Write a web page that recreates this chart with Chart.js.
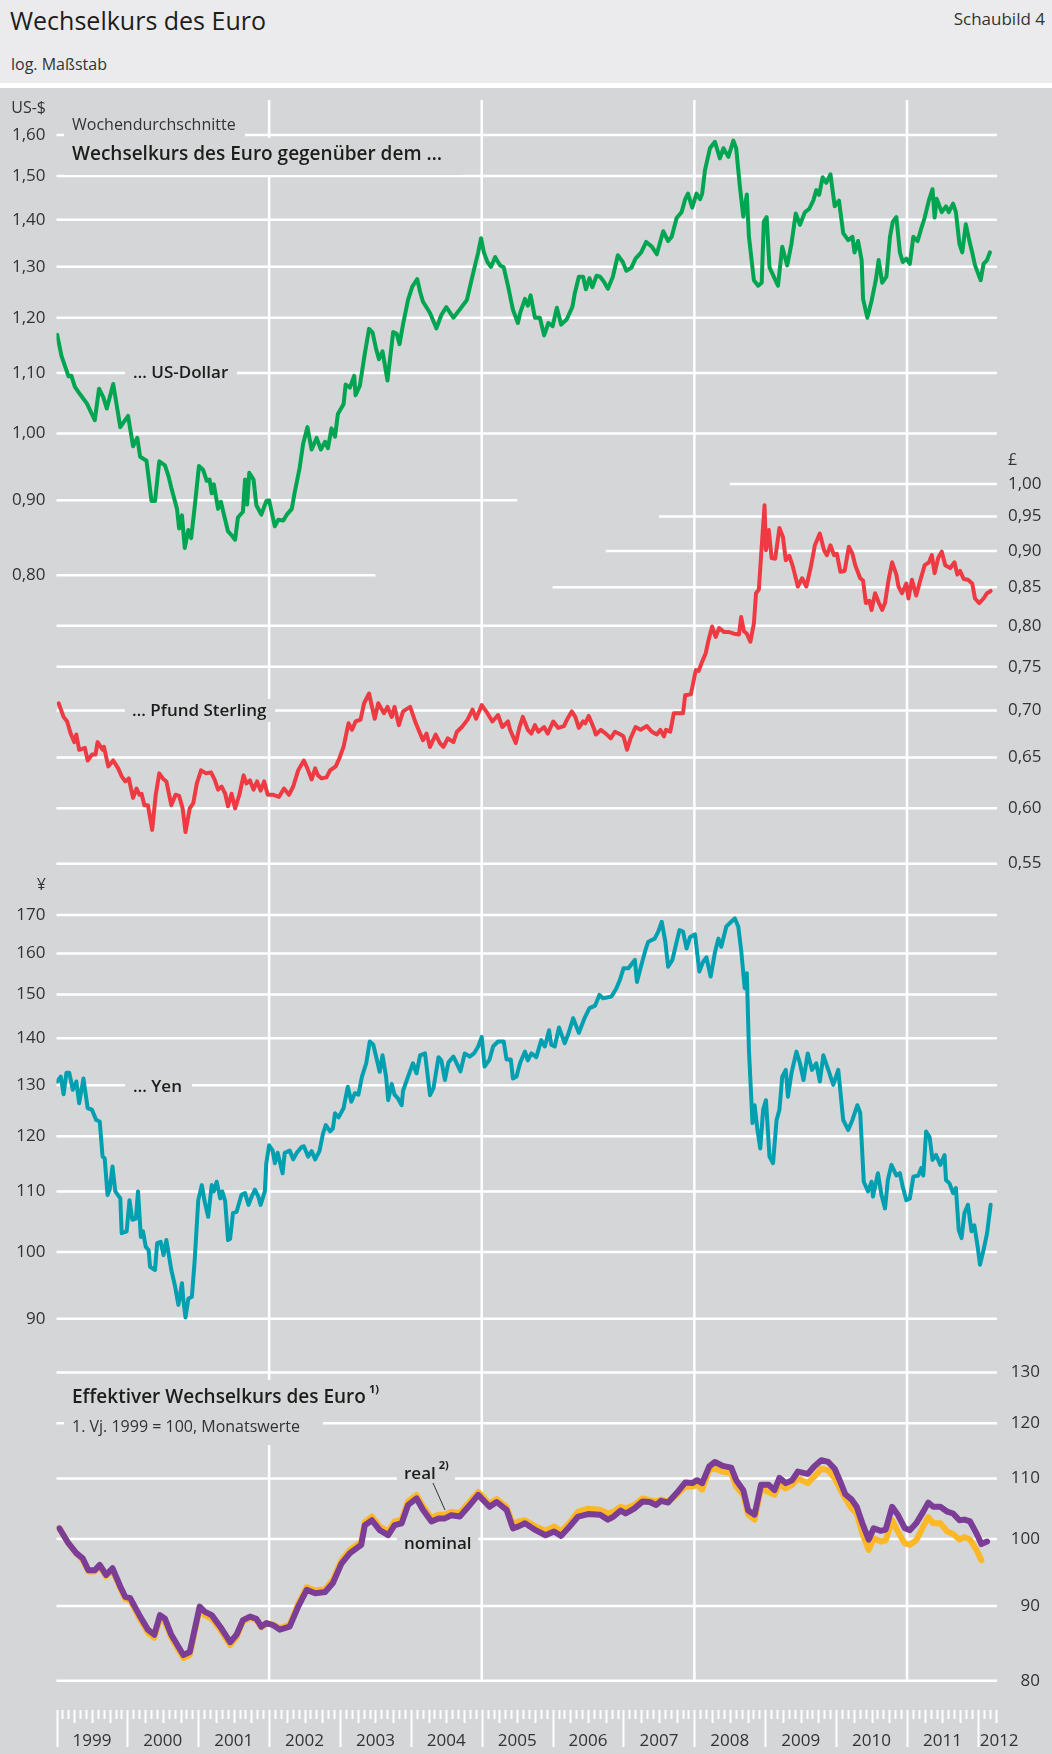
<!DOCTYPE html>
<html lang="de">
<head>
<meta charset="utf-8">
<title>Wechselkurs des Euro</title>
<script src="https://cdn.jsdelivr.net/npm/chart.js@4.4.1/dist/chart.umd.min.js"></script>
<style>
  html, body { margin: 0; padding: 0; background: #fff; }
  body { width: 1052px; height: 1754px; position: relative; overflow: hidden; font-family: 'Open Sans', sans-serif; }
  .head { position: absolute; left: 0; top: 0; width: 1052px; height: 83px; background: #ebebed; }
  .head .title { position: absolute; left: 10px; top: 2px; font-size: 25px; line-height: 36px; color: #1d1d1b; }
  .head .nr { position: absolute; right: 7px; top: 6px; font-size: 17px; line-height: 26px; color: #333; }
  .head .sub { position: absolute; left: 11px; top: 51px; font-size: 16px; line-height: 26px; color: #333; }
  .plot { position: absolute; left: 0; top: 88px; width: 1052px; height: 1666px; background: #d5d6d8; }
</style>
</head>
<body>
<div class="head">
  <div class="title">Wechselkurs des Euro</div>
  <div class="nr">Schaubild 4</div>
  <div class="sub">log. Maßstab</div>
</div>
<div class="plot"><canvas id="chart" width="1052" height="1666"></canvas></div>
<script>
// ---- data (weekly averages / monthly values) ----
const usdDates = [
  1999.01,1999.07,1999.17,1999.21,1999.26,1999.33,1999.43,1999.54,1999.60,1999.66,1999.71,1999.80,1999.90,
  2000.01,2000.08,2000.14,2000.18,2000.27,2000.34,2000.39,2000.45,2000.53,2000.58,2000.62,2000.70,2000.73,2000.77,2000.81,2000.86,2000.90,2000.95,
  2001.01,2001.07,2001.12,2001.16,2001.19,2001.22,2001.28,2001.32,2001.35,2001.42,2001.47,2001.52,2001.56,2001.63,2001.66,2001.69,2001.72,2001.78,2001.82,2001.89,2001.96,
  2002.00,2002.08,2002.13,2002.20,2002.25,2002.32,2002.36,2002.43,2002.48,2002.54,2002.60,2002.67,2002.73,2002.79,2002.83,2002.88,2002.93,2002.97,
  2003.05,2003.08,2003.14,2003.20,2003.22,2003.28,2003.35,2003.41,2003.46,2003.51,2003.55,2003.60,2003.67,2003.75,2003.80,2003.84,2003.89,2003.96,
  2004.02,2004.09,2004.13,2004.17,2004.27,2004.36,2004.43,2004.50,2004.60,2004.67,2004.79,2004.85,2004.90,2004.95,2004.99,
  2005.03,2005.08,2005.13,2005.19,2005.23,2005.26,2005.31,2005.37,2005.44,2005.51,2005.54,2005.61,2005.65,2005.69,2005.75,2005.82,2005.88,2005.94,
  2006.00,2006.06,2006.12,2006.20,2006.28,2006.31,2006.37,2006.43,2006.47,2006.52,2006.56,2006.62,2006.67,2006.72,2006.78,2006.85,2006.92,2006.99,
  2007.04,2007.11,2007.17,2007.25,2007.32,2007.40,2007.47,2007.56,2007.63,2007.68,2007.75,2007.82,2007.87,2007.91,2007.97,
  2008.03,2008.08,2008.11,2008.15,2008.22,2008.29,2008.36,2008.41,2008.48,2008.55,2008.59,2008.64,2008.69,2008.74,2008.77,2008.84,2008.90,2008.95,2008.98,
  2009.02,2009.06,2009.12,2009.18,2009.24,2009.31,2009.37,2009.43,2009.49,2009.56,2009.62,2009.68,2009.72,2009.76,2009.81,2009.86,2009.92,2009.98,
  2010.04,2010.10,2010.17,2010.23,2010.26,2010.31,2010.36,2010.38,2010.44,2010.50,2010.56,2010.60,2010.65,2010.71,2010.76,2010.80,2010.85,2010.90,2010.94,2010.99,
  2011.04,2011.09,2011.15,2011.20,2011.25,2011.31,2011.36,2011.39,2011.42,2011.49,2011.55,2011.59,2011.65,2011.69,2011.74,2011.78,2011.83,2011.89,2011.92,2011.96,
  2012.04,2012.08,2012.13,2012.17
];
const usdRates = [
  1.168,1.130,1.094,1.095,1.076,1.064,1.048,1.021,1.073,1.059,1.040,1.081,1.010,
  1.028,0.980,0.993,0.964,0.958,0.899,0.899,0.957,0.951,0.935,0.918,0.888,0.861,0.879,0.835,0.859,0.848,0.891,
  0.950,0.944,0.928,0.930,0.910,0.923,0.888,0.898,0.885,0.857,0.852,0.846,0.876,0.884,0.930,0.894,0.940,0.930,0.893,0.880,0.899,
  0.900,0.864,0.873,0.872,0.880,0.888,0.911,0.947,0.984,1.010,0.975,0.993,0.975,0.987,0.977,1.008,0.995,1.031,
  1.047,1.080,1.075,1.095,1.062,1.078,1.134,1.179,1.172,1.142,1.124,1.138,1.087,1.173,1.170,1.151,1.188,1.234,
  1.260,1.275,1.250,1.231,1.209,1.180,1.205,1.220,1.200,1.212,1.234,1.270,1.300,1.330,1.360,
  1.330,1.310,1.300,1.320,1.310,1.303,1.299,1.262,1.215,1.190,1.208,1.236,1.223,1.243,1.200,1.200,1.167,1.190,
  1.184,1.219,1.187,1.197,1.221,1.245,1.280,1.280,1.255,1.277,1.259,1.282,1.280,1.271,1.256,1.280,1.324,1.310,
  1.292,1.298,1.317,1.330,1.352,1.342,1.326,1.375,1.354,1.363,1.404,1.417,1.446,1.459,1.427,
  1.459,1.446,1.459,1.514,1.567,1.583,1.542,1.567,1.546,1.586,1.567,1.479,1.407,1.457,1.363,1.273,1.262,1.268,1.396,
  1.406,1.299,1.280,1.262,1.342,1.303,1.348,1.414,1.389,1.417,1.424,1.444,1.467,1.456,1.497,1.484,1.504,1.430,
  1.443,1.371,1.356,1.363,1.330,1.354,1.314,1.236,1.200,1.232,1.273,1.314,1.268,1.280,1.363,1.396,1.406,1.330,1.310,1.317,
  1.306,1.363,1.354,1.380,1.405,1.444,1.469,1.405,1.447,1.417,1.430,1.417,1.436,1.417,1.348,1.330,1.390,1.348,1.330,1.303,
  1.273,1.306,1.314,1.330
];

const gbpDates = [
  1999.03,1999.10,1999.15,1999.20,1999.25,1999.28,1999.32,1999.40,1999.44,1999.50,1999.55,1999.58,1999.65,1999.67,1999.73,1999.80,1999.87,1999.92,1999.97,
  2000.02,2000.08,2000.13,2000.17,2000.20,2000.24,2000.29,2000.35,2000.40,2000.45,2000.50,2000.55,2000.62,2000.68,2000.73,2000.78,2000.82,2000.88,2000.93,2000.98,
  2001.04,2001.11,2001.18,2001.23,2001.28,2001.33,2001.38,2001.42,2001.47,2001.52,2001.58,2001.64,2001.68,2001.73,2001.78,2001.83,2001.88,2001.93,2001.98,
  2002.06,2002.14,2002.21,2002.28,2002.34,2002.41,2002.49,2002.54,2002.60,2002.65,2002.69,2002.74,2002.81,2002.86,2002.94,2002.99,
  2003.05,2003.12,2003.17,2003.22,2003.29,2003.34,2003.41,2003.44,2003.49,2003.54,2003.62,2003.67,2003.73,2003.77,2003.83,2003.89,2003.99,
  2004.07,2004.17,2004.22,2004.27,2004.35,2004.41,2004.46,2004.52,2004.60,2004.65,2004.72,2004.80,2004.87,2004.92,
  2005.00,2005.08,2005.15,2005.23,2005.29,2005.37,2005.40,2005.48,2005.53,2005.58,2005.65,2005.70,2005.75,2005.80,2005.88,2005.93,
  2006.01,2006.08,2006.16,2006.21,2006.27,2006.32,2006.37,2006.43,2006.46,2006.51,2006.58,2006.61,2006.68,2006.75,2006.82,2006.88,2006.96,
  2007.00,2007.05,2007.10,2007.17,2007.24,2007.33,2007.40,2007.47,2007.52,2007.57,2007.60,2007.66,2007.71,2007.78,2007.84,2007.87,2007.95,
  2008.02,2008.06,2008.11,2008.16,2008.20,2008.25,2008.30,2008.35,2008.42,2008.49,2008.56,2008.63,2008.66,2008.70,2008.74,2008.79,2008.84,2008.87,2008.91,2008.95,2008.99,
  2009.01,2009.05,2009.09,2009.14,2009.20,2009.25,2009.29,2009.34,2009.39,2009.46,2009.52,2009.58,2009.64,2009.70,2009.77,2009.83,2009.87,2009.92,2009.97,
  2010.01,2010.06,2010.12,2010.18,2010.23,2010.27,2010.34,2010.38,2010.42,2010.47,2010.50,2010.55,2010.60,2010.65,2010.69,2010.74,2010.79,2010.85,2010.88,2010.93,2010.99,
  2011.02,2011.07,2011.13,2011.19,2011.25,2011.31,2011.35,2011.39,2011.44,2011.49,2011.54,2011.61,2011.67,2011.71,2011.75,2011.80,2011.86,2011.92,2011.96,
  2012.02,2012.08,2012.13,2012.18
];
const gbpRates = [
  0.708,0.693,0.688,0.675,0.666,0.674,0.658,0.660,0.647,0.653,0.653,0.666,0.658,0.661,0.641,0.647,0.639,0.631,0.626,
  0.629,0.610,0.619,0.613,0.614,0.603,0.603,0.580,0.613,0.634,0.629,0.626,0.603,0.613,0.612,0.600,0.578,0.600,0.605,0.624,
  0.637,0.634,0.635,0.628,0.618,0.621,0.614,0.602,0.614,0.600,0.613,0.632,0.624,0.627,0.618,0.626,0.617,0.626,0.613,
  0.613,0.611,0.619,0.613,0.621,0.637,0.647,0.639,0.628,0.639,0.632,0.629,0.630,0.637,0.641,0.649,
  0.661,0.686,0.679,0.688,0.690,0.708,0.719,0.708,0.691,0.708,0.697,0.704,0.693,0.704,0.684,0.699,0.704,
  0.686,0.668,0.675,0.661,0.674,0.665,0.661,0.670,0.666,0.677,0.682,0.690,0.701,0.691,
  0.706,0.697,0.688,0.695,0.682,0.688,0.679,0.665,0.681,0.693,0.679,0.675,0.684,0.677,0.682,0.675,
  0.688,0.681,0.683,0.691,0.699,0.693,0.681,0.688,0.686,0.694,0.681,0.674,0.679,0.675,0.670,0.677,0.674,
  0.672,0.658,0.670,0.682,0.679,0.683,0.677,0.674,0.679,0.672,0.679,0.677,0.697,0.697,0.697,0.717,0.718,
  0.746,0.745,0.756,0.766,0.782,0.799,0.786,0.797,0.792,0.792,0.790,0.789,0.811,0.793,0.790,0.780,0.803,0.842,0.847,0.906,0.967,
  0.901,0.930,0.890,0.889,0.933,0.920,0.887,0.893,0.878,0.851,0.862,0.851,0.876,0.908,0.925,0.901,0.894,0.908,0.894,
  0.896,0.871,0.872,0.906,0.896,0.880,0.862,0.859,0.829,0.832,0.820,0.842,0.830,0.820,0.829,0.860,0.884,0.867,0.851,0.842,0.855,
  0.835,0.860,0.839,0.860,0.880,0.884,0.894,0.869,0.890,0.899,0.880,0.876,0.884,0.867,0.872,0.861,0.860,0.855,0.835,
  0.829,0.835,0.842,0.845
];

const jpyDates = [
  1999.01,1999.06,1999.10,1999.14,1999.18,1999.23,1999.28,1999.32,1999.38,1999.44,1999.50,1999.56,1999.61,1999.65,1999.68,1999.72,1999.75,1999.79,1999.83,1999.90,1999.92,1999.99,
  2000.03,2000.07,2000.12,2000.15,2000.19,2000.22,2000.26,2000.30,2000.32,2000.39,2000.42,2000.47,2000.51,2000.55,2000.59,2000.62,2000.67,2000.72,2000.77,2000.79,2000.82,2000.86,2000.91,2000.95,
  2001.00,2001.05,2001.09,2001.14,2001.19,2001.22,2001.26,2001.31,2001.34,2001.38,2001.42,2001.45,2001.49,2001.54,2001.61,2001.66,2001.71,2001.75,2001.80,2001.85,2001.88,2001.94,2001.96,
  2002.00,2002.05,2002.08,2002.12,2002.19,2002.22,2002.29,2002.34,2002.39,2002.46,2002.49,2002.55,2002.60,2002.65,2002.71,2002.76,2002.80,2002.86,2002.90,2002.93,2002.98,
  2003.05,2003.11,2003.16,2003.21,2003.26,2003.31,2003.37,2003.42,2003.47,2003.51,2003.56,2003.60,2003.65,2003.68,2003.73,2003.77,2003.82,2003.87,2003.89,2003.96,
  2004.03,2004.08,2004.13,2004.20,2004.27,2004.32,2004.39,2004.43,2004.48,2004.53,2004.60,2004.64,2004.70,2004.76,2004.83,2004.89,2004.95,
  2005.00,2005.04,2005.11,2005.16,2005.23,2005.31,2005.35,2005.41,2005.44,2005.49,2005.54,2005.61,2005.65,2005.70,2005.77,2005.84,2005.89,2005.95,2005.98,
  2006.03,2006.09,2006.17,2006.22,2006.29,2006.37,2006.45,2006.52,2006.60,2006.66,2006.71,2006.83,2006.90,2006.95,
  2007.00,2007.07,2007.10,2007.16,2007.19,2007.25,2007.31,2007.35,2007.44,2007.49,2007.54,2007.59,2007.63,2007.69,2007.75,2007.79,2007.84,2007.89,2007.94,
  2008.01,2008.07,2008.12,2008.17,2008.23,2008.29,2008.34,2008.38,2008.45,2008.52,2008.57,2008.62,2008.66,2008.71,2008.74,2008.77,2008.82,2008.85,2008.89,2008.93,2008.97,
  2009.01,2009.06,2009.11,2009.16,2009.20,2009.24,2009.29,2009.32,2009.37,2009.44,2009.49,2009.54,2009.60,2009.66,2009.72,2009.77,2009.82,2009.89,2009.96,
  2010.03,2010.10,2010.17,2010.23,2010.30,2010.34,2010.39,2010.45,2010.50,2010.52,2010.59,2010.64,2010.69,2010.73,2010.78,2010.85,2010.90,2010.94,2010.99,
  2011.04,2011.09,2011.16,2011.20,2011.23,2011.27,2011.32,2011.36,2011.41,2011.47,2011.53,2011.55,2011.60,2011.65,2011.69,2011.73,2011.77,2011.81,2011.86,2011.91,2011.95,
  2012.00,2012.03,2012.08,2012.13,2012.18
];
const jpyRates = [
  130.8,131.8,128.2,132.6,132.6,129.1,130.8,126.4,131.4,125.4,125.1,123.1,122.8,116.2,115.9,109.4,110.3,114.4,110.0,108.8,103.0,103.3,
  108.5,105.2,105.4,110.0,102.4,103.3,100.8,100.3,97.7,97.2,101.4,101.6,99.5,101.9,99.2,97.2,94.9,92.0,95.2,92.7,90.2,92.9,93.2,98.7,
  108.5,111.1,108.3,105.7,111.1,110.0,111.7,108.8,110.0,108.3,101.9,102.1,106.3,106.5,109.4,109.7,107.7,109.0,110.3,109.0,107.7,110.0,115.0,
  118.3,117.3,115.0,116.9,113.2,116.9,117.3,115.7,116.9,118.0,118.1,116.2,117.2,115.7,117.2,120.5,122.1,120.9,121.5,124.4,123.6,
  125.4,129.7,126.7,128.4,128.1,131.8,134.6,139.3,138.6,136.0,132.8,136.3,131.8,127.0,130.3,128.1,127.3,126.0,128.9,131.8,
  134.6,132.5,136.3,136.7,128.0,129.5,135.9,135.2,131.1,134.8,136.0,134.8,132.9,136.7,136.0,136.7,138.2,
  140.3,133.9,135.4,138.2,139.3,139.3,135.4,135.4,131.4,131.8,134.6,137.1,135.2,136.7,135.9,139.6,138.2,141.8,138.6,
  138.2,142.4,138.9,140.9,144.5,141.2,144.5,146.8,147.4,149.9,149.1,149.5,151.5,153.5,
  156.3,156.3,157.0,158.4,153.0,157.0,160.9,163.0,163.8,165.6,168.2,163.0,156.7,158.4,163.0,166.0,165.6,161.3,164.2,
  164.9,155.5,157.8,159.0,154.3,160.3,163.8,161.7,166.9,168.2,169.1,166.9,160.9,151.5,155.1,137.4,122.5,126.0,121.2,117.7,125.1,
  127.0,116.2,115.0,123.1,125.1,131.8,133.2,127.7,132.5,137.1,134.6,131.1,136.7,133.2,134.6,130.8,136.3,133.2,130.1,
  133.2,123.1,121.2,123.1,126.0,124.5,111.7,110.0,111.7,109.1,113.2,109.4,107.1,112.0,114.7,112.8,113.2,110.8,108.5,
  108.8,112.6,112.8,114.1,112.8,120.9,119.8,115.6,116.5,114.7,116.5,112.0,111.4,109.7,110.6,103.5,102.2,106.3,107.7,103.3,104.3,
  100.6,98.0,100.3,103.0,107.7
];

const effDates = [
  1999.04,1999.17,1999.28,1999.37,1999.45,1999.54,1999.61,1999.70,1999.79,1999.90,1999.97,
  2000.04,2000.18,2000.29,2000.38,2000.46,2000.53,2000.62,2000.72,2000.79,2000.88,
  2001.02,2001.09,2001.19,2001.31,2001.45,2001.54,2001.63,2001.73,2001.82,2001.89,2001.96,
  2002.06,2002.15,2002.29,2002.41,2002.53,2002.65,2002.79,2002.90,
  2003.02,2003.14,2003.30,2003.35,2003.45,2003.56,2003.68,2003.77,2003.87,2003.96,
  2004.08,2004.17,2004.29,2004.39,2004.48,2004.57,2004.69,2004.81,2004.95,
  2005.11,2005.21,2005.35,2005.44,2005.52,2005.61,2005.76,2005.90,
  2006.02,2006.12,2006.24,2006.36,2006.50,2006.67,2006.78,2006.86,2006.96,
  2007.03,2007.15,2007.27,2007.37,2007.46,2007.53,2007.63,2007.75,2007.87,2007.97,
  2008.04,2008.11,2008.21,2008.29,2008.40,2008.52,2008.59,2008.69,2008.76,2008.85,2008.94,
  2009.05,2009.13,2009.20,2009.29,2009.38,2009.46,2009.60,2009.69,2009.79,2009.89,2009.98,
  2010.05,2010.13,2010.22,2010.29,2010.37,2010.46,2010.53,2010.63,2010.70,2010.79,2010.87,2010.97,
  2011.04,2011.13,2011.23,2011.30,2011.37,2011.47,2011.57,2011.65,2011.74,2011.81,2011.89,2011.98,
  2012.05,2012.13
];
const effNominal = [
  101.7,99.3,97.8,97.0,95.2,95.2,96.0,94.5,95.5,92.8,91.3,
  91.1,88.5,86.7,86.0,88.7,88.2,86.0,84.4,83.3,83.7,
  89.9,89.2,88.7,87.1,85.0,86.0,88.0,88.5,88.2,87.1,87.6,
  87.3,86.7,87.1,89.9,92.3,91.8,92.0,93.3,
  96.2,97.8,99.1,102.2,103.0,101.4,100.6,102.2,102.5,105.5,
  106.6,104.7,102.8,103.3,103.3,103.8,103.6,105.2,107.2,
  105.2,106.0,104.7,101.7,102.0,102.5,101.4,100.6,
  101.2,100.5,102.0,103.6,104.0,103.9,103.1,103.6,104.6,
  104.1,104.9,106.1,106.0,105.5,106.2,105.9,107.5,109.3,109.2,
  109.7,109.2,112.1,112.9,112.2,111.9,109.7,108.0,104.6,103.9,108.9,
  108.9,108.0,110.1,109.2,109.7,111.2,110.8,112.1,113.2,112.9,111.7,
  109.7,107.3,106.4,105.2,102.5,99.9,101.7,101.3,101.5,105.2,103.9,101.7,
  101.4,102.5,104.4,105.9,105.2,105.2,104.4,104.1,103.0,103.1,102.8,100.9,
  99.2,99.6
];
const effReal = [
  101.7,99.3,97.7,96.8,95.0,95.0,95.8,94.3,95.3,92.5,91.0,
  90.8,88.1,86.3,85.6,88.3,87.8,85.6,84.0,82.9,83.3,
  89.5,88.7,88.2,86.7,84.6,85.7,87.8,88.3,88.0,87.0,87.6,
  87.4,86.9,87.4,90.3,92.7,92.2,92.4,93.8,
  96.7,98.3,99.6,102.7,103.6,102.0,101.2,102.8,103.1,106.1,
  107.2,105.3,103.4,103.9,103.9,104.4,104.2,105.8,107.7,
  105.7,106.5,105.2,102.3,102.8,103.0,102.0,101.3,
  102.0,101.2,102.6,104.4,104.9,104.7,104.1,104.4,105.2,
  104.9,105.5,106.6,106.3,106.1,106.4,106.1,107.2,108.6,108.6,
  108.9,108.1,111.5,111.7,111.2,110.9,108.6,107.2,103.9,103.1,108.3,
  107.7,107.2,109.0,108.3,108.9,110.0,109.2,110.3,111.7,111.4,110.0,
  108.3,106.6,104.9,104.1,100.9,98.3,100.1,99.6,99.8,103.0,101.2,99.3,
  99.1,99.8,102.0,103.5,102.5,102.5,101.2,100.8,99.9,100.3,99.9,98.3,
  96.7,null
];

const usdTicks = [1.6, 1.5, 1.4, 1.3, 1.2, 1.1, 1.0, 0.9, 0.8];
const usdTickLabels = ['1,60', '1,50', '1,40', '1,30', '1,20', '1,10', '1,00', '0,90', '0,80'];
const gbpTicks = [1.0, 0.95, 0.9, 0.85, 0.8, 0.75, 0.7, 0.65, 0.6, 0.55];
const gbpTickLabels = ['1,00', '0,95', '0,90', '0,85', '0,80', '0,75', '0,70', '0,65', '0,60', '0,55'];
const jpyTicks = [170, 160, 150, 140, 130, 120, 110, 100, 90];
const jpyTickLabels = ['170', '160', '150', '140', '130', '120', '110', '100', '90'];
const effTicks = [130, 120, 110, 100, 90, 80];
const effTickLabels = ['130', '120', '110', '100', '90', '80'];
const yearPositions = [1999.5, 2000.5, 2001.5, 2002.5, 2003.5, 2004.5, 2005.5, 2006.5, 2007.5, 2008.5, 2009.5, 2010.5, 2011.5, 2012.3];
const yearLabels = ['1999', '2000', '2001', '2002', '2003', '2004', '2005', '2006', '2007', '2008', '2009', '2010', '2011', '2012'];

// ---- layout ----
const BG = '#d5d6d8';
const TXT = '#333333';
const FONT = "'Open Sans', 'Noto Sans', sans-serif";
const AREA_TOP = 12;
const AREA_BOTTOM = 1621;
const PX_PER_LN = 635;   // same log scale in all panels
const X_MIN = 1999;
const X_MAX = 2012.27;
const gridYears = [2002, 2005, 2008, 2011];
// some horizontal lines stop short so the two upper panels do not collide
const gridStop = { yUsd: { '0.9': 2005.5, '0.8': 2003.5 } };
const gridStart = { yGbp: { '1': 2008.5, '0.95': 2007.5, '0.9': 2006.75, '0.85': 2006.0 } };

Chart.defaults.font.family = FONT;

function logRange(value, yPx) {
  return {
    min: value * Math.exp(-(AREA_BOTTOM - yPx) / PX_PER_LN),
    max: value * Math.exp((yPx - AREA_TOP) / PX_PER_LN)
  };
}

function toPoints(dates, values) {
  return dates.map((d, i) => ({ x: d, y: values[i] }));
}

function logAxis(position, weight, width, anchor, ticks, labels, crossAlign) {
  const range = logRange(anchor[0], anchor[1]);
  return {
    type: 'logarithmic',
    position: position,
    weight: weight,
    min: range.min,
    max: range.max,
    bounds: 'data',
    grid: { display: false, drawTicks: false },
    border: { display: false },
    afterBuildTicks: (scale) => { scale.ticks = ticks.map(v => ({ value: v })); },
    afterFit: (scale) => {
      scale.width = width;
      scale.paddingTop = 0;
      scale.paddingBottom = 0;
    },
    ticks: {
      autoSkip: false,
      padding: 11,
      crossAlign: crossAlign,
      color: TXT,
      font: { size: 17 },
      callback: (value, index) => labels[index]
    }
  };
}

const notes = [
  { text: 'US-$', x: 46, y: 20, align: 'right', font: '400 16px ' + FONT },
  { text: 'Wochendurchschnitte', x: 72, y: 37, font: '400 16px ' + FONT, box: [64, 27, 245, 49] },
  { text: 'Wechselkurs des Euro gegenüber dem …', x: 72, y: 67, font: '600 19px ' + FONT, color: '#1d1d1b', box: [64, 50, 462, 87] },
  { text: '… US-Dollar', x: 133, y: 285, font: '600 17px ' + FONT, color: '#1d1d1b', box: [125, 274, 237, 297] },
  { text: '£', x: 1008, y: 372, font: '400 16px ' + FONT },
  { text: '… Pfund Sterling', x: 132, y: 623, font: '600 17px ' + FONT, color: '#1d1d1b', box: [125, 611, 275, 634] },
  { text: '¥', x: 46, y: 797, align: 'right', font: '400 16px ' + FONT },
  { text: '… Yen', x: 133, y: 999, font: '600 17px ' + FONT, color: '#1d1d1b', box: [125, 988, 192, 1010] },
  { text: 'Effektiver Wechselkurs des Euro', sup: '1)', x: 72, y: 1310, font: '600 19px ' + FONT, color: '#1d1d1b', box: [64, 1292, 392, 1328] },
  { text: '1. Vj. 1999 = 100, Monatswerte', x: 72, y: 1339, font: '400 16px ' + FONT, box: [64, 1328, 323, 1357] },
  { text: 'real', sup: '2)', x: 404, y: 1386, font: '600 17px ' + FONT, color: '#1d1d1b', box: [397, 1374, 455, 1398] },
  { text: 'nominal', x: 404, y: 1456, font: '600 17px ' + FONT, color: '#1d1d1b', box: [397, 1444, 478, 1468] }
];
const leader = [433, 1395, 445, 1422];

const decor = {
  id: 'decor',
  afterLayout(chart) {
    // the yen and pound axes share the label columns of the dollar and effective axes;
    // widen their boxes so their labels are not clipped away
    const { scales, chartArea } = chart;
    scales.yJpy.left = 0;
    scales.yJpy.right = chartArea.left;
    scales.yGbp.left = chartArea.right;
    scales.yGbp.right = chart.width;
  },
  beforeDatasetsDraw(chart) {
    const { ctx, chartArea, scales } = chart;
    const xs = scales.x;
    ctx.save();
    ctx.strokeStyle = '#ffffff';
    ctx.lineWidth = 2.5;
    ctx.lineCap = 'butt';
    const vBottom = scales.yEff.getPixelForValue(80) + 1.25;
    gridYears.forEach(yr => {
      const px = xs.getPixelForValue(yr);
      ctx.beginPath();
      ctx.moveTo(px, chartArea.top);
      ctx.lineTo(px, vBottom);
      ctx.stroke();
    });
    const groups = [['yUsd', usdTicks], ['yGbp', gbpTicks], ['yJpy', jpyTicks], ['yEff', effTicks]];
    groups.forEach(([id, values]) => {
      const s = scales[id];
      values.forEach(v => {
        const y = s.getPixelForValue(v);
        const from = gridStart[id] && gridStart[id][String(v)] !== undefined ? xs.getPixelForValue(gridStart[id][String(v)]) : chartArea.left;
        const to = gridStop[id] && gridStop[id][String(v)] !== undefined ? xs.getPixelForValue(gridStop[id][String(v)]) : chartArea.right;
        ctx.beginPath();
        ctx.moveTo(from, y);
        ctx.lineTo(to, y);
        ctx.stroke();
      });
    });

    // text labels sit on the grid, with a cut-out behind them
    notes.forEach(n => {
      if (n.box) {
        ctx.fillStyle = BG;
        ctx.fillRect(n.box[0], n.box[1], n.box[2] - n.box[0], n.box[3] - n.box[1]);
      }
      ctx.font = n.font;
      ctx.fillStyle = n.color || TXT;
      ctx.textAlign = n.align || 'left';
      ctx.textBaseline = 'middle';
      ctx.fillText(n.text, n.x, n.y);
      if (n.sup) {
        const w = ctx.measureText(n.text).width;
        ctx.font = '700 11px ' + FONT;
        ctx.textAlign = 'left';
        ctx.fillText(n.sup, n.x + w + 3, n.y - 8);
      }
    });
    ctx.strokeStyle = '#333333';
    ctx.lineWidth = 1;
    ctx.beginPath();
    ctx.moveTo(leader[0], leader[1]);
    ctx.lineTo(leader[2], leader[3]);
    ctx.stroke();
    ctx.restore();
  },
  afterDraw(chart) {
    // month / quarter / year tick marks below the plot
    const { ctx, chartArea, scales } = chart;
    const xs = scales.x;
    ctx.save();
    ctx.strokeStyle = '#ffffff';
    ctx.lineWidth = 2;
    const months = Math.round((X_MAX - X_MIN) * 12);
    for (let m = 0; m <= months; m++) {
      const px = Math.round(xs.getPixelForValue(X_MIN + m / 12)) + 0.5;
      const len = m % 12 === 0 ? 37 : (m % 3 === 0 ? 13 : 9);
      ctx.beginPath();
      ctx.moveTo(px, chartArea.bottom + 1);
      ctx.lineTo(px, chartArea.bottom + 1 + len);
      ctx.stroke();
    }
    ctx.restore();
  }
};

const lineStyle = { pointRadius: 0, tension: 0, borderJoinStyle: 'round', borderCapStyle: 'round', fill: false };

new Chart(document.getElementById('chart'), {
  type: 'line',
  data: {
    datasets: [
      Object.assign({ label: 'US-Dollar', data: toPoints(usdDates, usdRates), yAxisID: 'yUsd', borderColor: '#00a551', borderWidth: 4, order: 2 }, lineStyle),
      Object.assign({ label: 'Pfund Sterling', data: toPoints(gbpDates, gbpRates), yAxisID: 'yGbp', borderColor: '#ee3a43', borderWidth: 4, order: 2 }, lineStyle),
      Object.assign({ label: 'Yen', data: toPoints(jpyDates, jpyRates), yAxisID: 'yJpy', borderColor: '#00a0b0', borderWidth: 4, order: 2 }, lineStyle),
      Object.assign({ label: 'nominal', data: toPoints(effDates, effNominal), yAxisID: 'yEff', borderColor: '#7b3d96', borderWidth: 6, order: 0 }, lineStyle),
      Object.assign({ label: 'real', data: toPoints(effDates, effReal), yAxisID: 'yEff', borderColor: '#fdb827', borderWidth: 6, order: 1 }, lineStyle)
    ]
  },
  options: {
    responsive: false,
    maintainAspectRatio: false,
    animation: false,
    devicePixelRatio: 1,
    layout: { padding: { top: AREA_TOP, right: 12, left: 0, bottom: 0 } },
    plugins: { legend: { display: false }, tooltip: { enabled: false } },
    scales: {
      x: {
        type: 'linear',
        position: 'bottom',
        min: X_MIN,
        max: X_MAX,
        bounds: 'data',
        grid: { display: false, drawTicks: false },
        border: { display: false },
        afterBuildTicks: (scale) => { scale.ticks = yearPositions.map(v => ({ value: v })); },
        afterFit: (scale) => {
          scale.height = 1666 - AREA_BOTTOM;
          scale.paddingLeft = 0;
          scale.paddingRight = 0;
        },
        ticks: {
          autoSkip: false,
          maxRotation: 0,
          padding: 22,
          color: TXT,
          font: { size: 17 },
          callback: (value, index) => yearLabels[index]
        }
      },
      yUsd: logAxis('left', 1, 56.5, [1.6, 47], usdTicks, usdTickLabels, 'near'),
      yJpy: logAxis('left', 0, 0, [170, 827], jpyTicks, jpyTickLabels, 'near'),
      yGbp: logAxis('right', 0, 0, [1.0, 396], gbpTicks, gbpTickLabels, 'near'),
      yEff: logAxis('right', 1, 43, [100, 1451], effTicks, effTickLabels, 'far')
    }
  },
  plugins: [decor]
});
</script>
</body>
</html>
